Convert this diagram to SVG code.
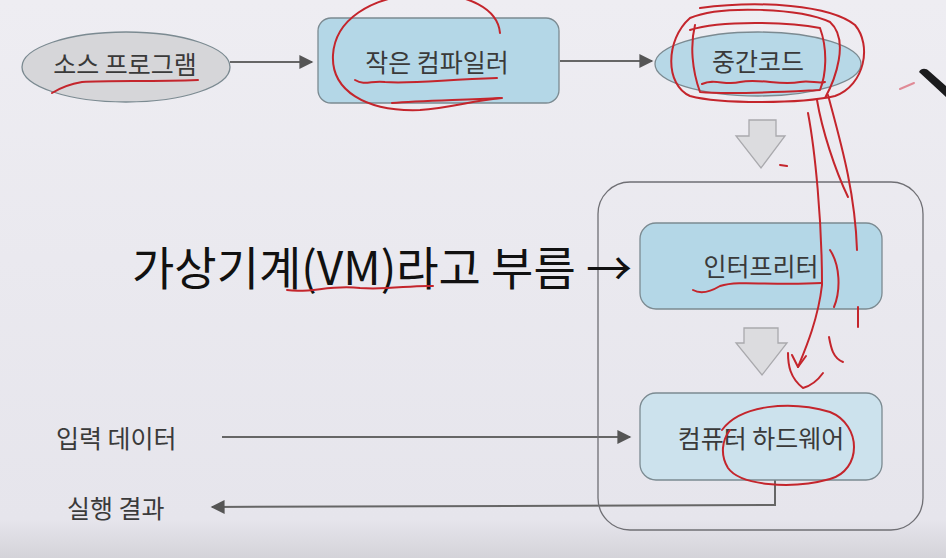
<svg xmlns="http://www.w3.org/2000/svg" width="946" height="558" viewBox="0 0 946 558">
<defs>
<linearGradient id="bg" x1="0" y1="0" x2="0" y2="1">
<stop offset="0" stop-color="#eeedf2"/>
<stop offset="0.93" stop-color="#e6e5ec"/>
<stop offset="1" stop-color="#d4d3d9"/>
</linearGradient>
<marker id="ah2" viewBox="0 0 10 10" refX="9" refY="5" markerWidth="16" markerHeight="14" markerUnits="userSpaceOnUse" orient="auto">
<path d="M0,0 L10,5 L0,10 Z" fill="#555"/>
</marker>
</defs>
<style>
.t{font-family:"Noto Sans CJK KR","Noto Sans",sans-serif;font-size:25px;fill:#3a3a3a;text-anchor:middle;dominant-baseline:central}
.l{font-family:"Noto Sans CJK KR","Noto Sans",sans-serif;font-size:25px;fill:#3a3a3a;dominant-baseline:central}
.big{font-family:"Noto Sans CJK KR","Noto Sans",sans-serif;font-size:46px;fill:#111;dominant-baseline:central}
.box{stroke:#7b8a91;stroke-width:1.3}
.conn{fill:none;stroke:#666;stroke-width:2}
.blk{fill:#dcdcdf;stroke:#a9a9ad;stroke-width:1.3}
.red{fill:none;stroke:#c4252c;stroke-width:2;stroke-linecap:round;stroke-linejoin:round}
</style>
<rect width="946" height="558" fill="url(#bg)"/>

<g id="connectors">
<line class="conn" x1="230" y1="62" x2="312" y2="62" marker-end="url(#ah2)"/>
<line class="conn" x1="560" y1="61" x2="652" y2="61" marker-end="url(#ah2)"/>
<line class="conn" x1="222" y1="437" x2="630" y2="437" marker-end="url(#ah2)"/>
<polyline class="conn" points="775,480 775,505 212,507" marker-end="url(#ah2)"/>
<path class="blk" d="M749,120 H776 V136 H785 L761,168 L736,136 H749 Z"/>
<path class="blk" d="M744,328 H778 V343 H787 L762,375 L736,343 H744 Z"/>
</g>

<g id="vm-container">
<rect x="598" y="182" width="325" height="348" rx="32" fill="none" stroke="#6f6f74" stroke-width="1.3"/>
</g>

<g id="source">
<ellipse class="box" cx="126" cy="67" rx="104" ry="35" fill="#d6d6d9"/>
<text class="t" x="125" y="63">소스 프로그램</text>
</g>

<g id="compiler">
<rect class="box" x="318" y="18" width="241" height="85" rx="13" fill="#b4d7e7"/>
<text class="t" x="437" y="61">작은 컴파일러</text>
</g>

<g id="intermediate">
<ellipse class="box" cx="758" cy="64" rx="103" ry="32" fill="#b7d8e7"/>
<text class="t" x="758" y="60">중간코드</text>
</g>

<g id="interpreter">
<rect class="box" x="640" y="223" width="242" height="86" rx="16" fill="#b4d7e7"/>
<text class="t" x="761" y="265">인터프리터</text>
</g>

<g id="hardware">
<rect class="box" x="640" y="393" width="242" height="87" rx="16" fill="#cce2ed"/>
<text class="t" x="761" y="437">컴퓨터 하드웨어</text>
</g>

<g id="labels">
<text class="l" x="56" y="437">입력 데이터</text>
<text class="l" x="67" y="507">실행 결과</text>
<text class="big" x="132" y="265">가상기계(VM)라고 부름</text>
<text class="big" x="586" y="265">→</text>
</g>

<g id="annotations">
<path class="red" d="M52,93 C60,88 70,84 82,82 C110,80 150,82 198,80"/>
<path class="red" d="M500,33 C498,10 470,-8 420,-6 C370,-3 335,20 333,55 C331,90 365,112 420,110 C450,108 475,100 502,98"/>
<path class="red" d="M355,80 C365,86 372,80 385,82 C410,84 440,80 497,78"/>
<path class="red" d="M392,103 C420,101 460,100 500,98"/>
<path class="red" d="M700,8 C760,0 830,5 855,25 C872,45 865,85 835,96 C800,104 720,104 690,96 C665,85 665,40 690,18 C720,5 800,8 830,22 C850,40 835,80 825,98"/>
<path class="red" d="M690,30 C720,20 790,22 820,28 C828,50 826,75 820,90 C780,92 730,95 700,92 C692,70 690,45 695,25"/>
<path class="red" d="M702,84 C715,78 725,86 740,82 C760,78 780,86 800,82 C810,80 818,84 825,82"/>
<path class="red" d="M808,113 C815,150 822,220 822,285 C818,320 805,350 798,367"/>
<path class="red" d="M798,367 L792,355 M798,367 L806,356"/>
<path class="red" d="M788,353 C788,365 790,378 803,388 C810,386 818,380 823,373"/>
<path class="red" d="M828,95 C840,140 855,190 857,250"/>
<path class="red" d="M817,100 C822,130 835,170 848,197"/>
<path class="red" d="M858,307 L858,327"/>
<path class="red" d="M829,337 C831,348 833,358 843,362"/>
<path class="red" d="M830,250 C840,265 841,290 834,307"/>
<path class="red" d="M693,290 C700,294 710,292 720,286 C740,280 770,286 822,283"/>
<path class="red" d="M722,430 C740,405 790,400 830,412 C862,425 862,470 830,479 C790,490 740,485 728,468 C720,455 722,440 730,430"/>
<path class="red" d="M287,290 C310,294 330,284 360,288 C390,290 410,285 433,286"/>
<path class="red" d="M780,165 L787,166"/>
<path d="M900,89 L914,83" stroke="#e08a96" stroke-width="2" stroke-linecap="round"/>
</g>

<g id="pen">
<path d="M919,72 C921,68 926,68 929,71 L946,86 L946,97 Z" fill="#1c1c1e"/>
</g>
</svg>
